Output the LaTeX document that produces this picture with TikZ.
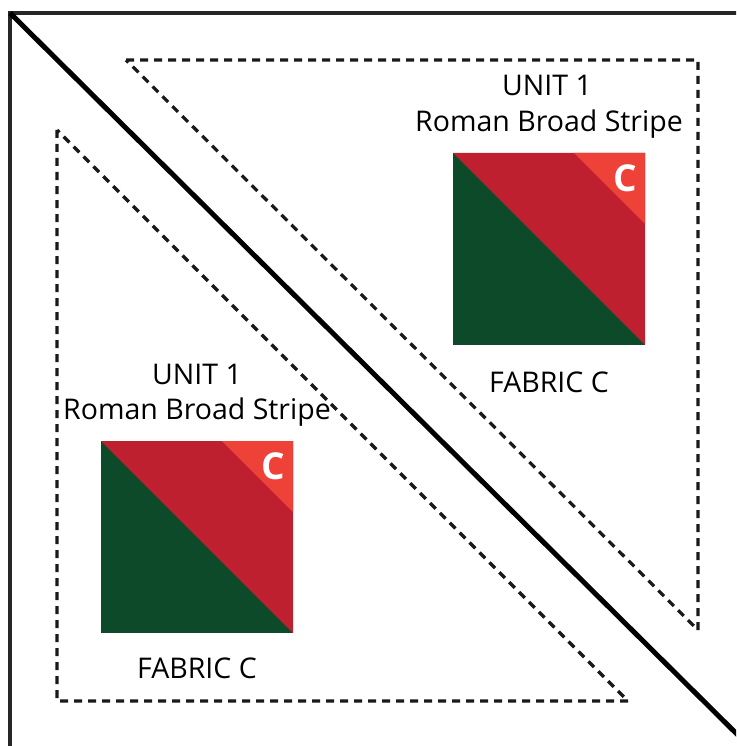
\documentclass[tikz,border=0pt]{standalone}
\usepackage{fontspec}
\setmainfont{Open Sans}
\definecolor{qgreen}{HTML}{0D4A29}
\definecolor{qred}{HTML}{BF202F}
\definecolor{qlight}{HTML}{EE4137}
\tikzset{
  lbl/.style={font=\fontsize{28.5}{32}\selectfont, text=black, inner sep=0pt},
  cletter/.style={font=\fontsize{37}{40}\selectfont\bfseries, text=white, inner sep=0pt},
  dash line/.style={line width=3.2pt, dash pattern=on 8pt off 6pt, black!90},
}
\newcommand{\qsquare}[3]{% #1 x, #2 y, #3 name
  \fill[qgreen] (#1,#2) rectangle ++(192,192);
  \fill[qred] (#1,#2) -- ++(192,0) -- ++(0,192) -- cycle;
  \fill[qlight] (#1+121,#2) -- (#1+192,#2) -- (#1+192,#2+71) -- cycle;
  \node[cletter] (#3) at (#1+172,#2+25) {C};
}
\begin{document}
\begin{tikzpicture}[x=1pt,y=-1pt]
\useasboundingbox (0,0) rectangle (736,746);
\fill[white] (0,0) rectangle (736,746);
\begin{scope}
\clip (0,0) rectangle (736,746);
\draw[line width=3.4pt, black!85] (10,13) rectangle (780,790);
\coordinate (d1) at (10,13);
\coordinate (d2) at (760,757);
\draw[line width=5pt, black] (d1) -- (d2);
\end{scope}
% upper dashed triangle
\coordinate (u1) at (126,60);
\coordinate (u2) at (698,60);
\coordinate (u3) at (698,630);
\draw[dash line] (u1) -- (u2) -- (u3) -- cycle;
% lower dashed triangle
\coordinate (l1) at (57,130);
\coordinate (l2) at (57,701);
\coordinate (l3) at (628,701);
\draw[dash line] (l1) -- (l2) -- (l3) -- cycle;
% squares
\qsquare{453}{153}{cu}
\qsquare{101}{441}{cl}
% labels
\node[lbl] (unitu) at (547,85) {UNIT 1};
\node[lbl] (romu) at (549,124) {Roman Broad Stripe};
\node[lbl] (fabu) at (549,382) {FABRIC C};
\node[lbl] (unitl) at (197,374) {UNIT 1};
\node[lbl] (roml) at (197,412) {Roman Broad Stripe};
\node[lbl] (fabl) at (197,668) {FABRIC C};
\end{tikzpicture}
\end{document}
